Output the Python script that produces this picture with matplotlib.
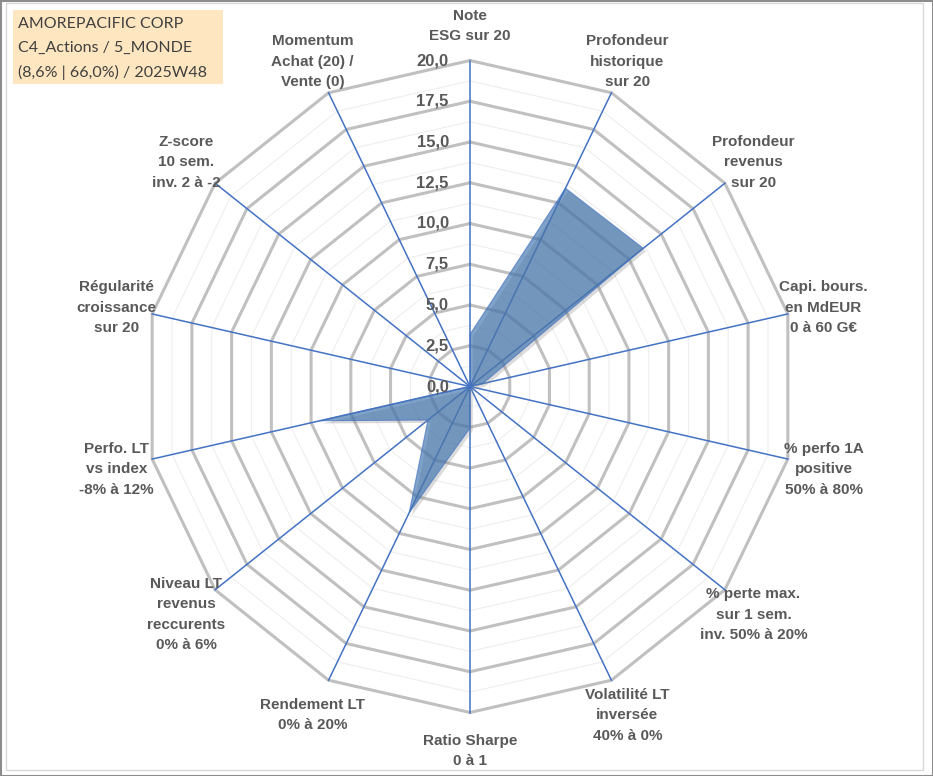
import matplotlib
matplotlib.use("Agg")
import matplotlib.pyplot as plt
import numpy as np
from matplotlib.patches import Rectangle
import matplotlib.patheffects as pe

# ---- data ----
labels = ["Note\nESG sur 20",
          "Profondeur\nhistorique\nsur 20",
          "Profondeur\nrevenus\nsur 20",
          "Capi. bours.\nen MdEUR\n0 à 60 G€",
          "% perfo 1A\npositive\n50% à 80%",
          "% perte max.\nsur 1 sem.\ninv. 50% à 20%",
          "Volatilité LT\ninversée\n40% à 0%",
          "Ratio Sharpe\n0 à 1",
          "Rendement LT\n0% à 20%",
          "Niveau LT\nrevenus\nreccurents\n0% à 6%",
          "Perfo. LT\nvs index\n-8% à 12%",
          "Régularité\ncroissance\nsur 20",
          "Z-score\n10 sem.\ninv. 2 à -2",
          "Momentum\nAchat (20) /\nVente (0)"]
values = [3.2, 13.5, 13.6, 0.8, 0.0, 0.0, 0.0, 2.55, 8.6, 3.3, 9.45, 0.0, 0.0, 0.0]
ticks = [0, 2.5, 5, 7.5, 10, 12.5, 15, 17.5, 20]
tick_labels = ["0,0", "2,5", "5,0", "7,5", "10,0", "12,5", "15,0", "17,5", "20,0"]
title_lines = ["AMOREPACIFIC CORP", "C4_Actions / 5_MONDE", "(8,6% | 66,0%) / 2025W48"]

W, H = 933, 776
cx, cy = 470, 386.5      # centre in pixels
ppu = 16.3               # pixels per unit

fig = plt.figure(figsize=(W / 100, H / 100), dpi=100)
ax = fig.add_axes([0, 0, 1, 1])
ax.set_xlim(-cx / ppu, (W - cx) / ppu)
ax.set_ylim(-(H - cy) / ppu, cy / ppu)
ax.axis('off')

n = len(labels)
ang = np.pi / 2 - np.arange(n) * 2 * np.pi / n
ca, sa = np.cos(ang), np.sin(ang)
ca_c, sa_c = np.append(ca, ca[0]), np.append(sa, sa[0])

# minor rings
for r in np.arange(1.25, 20, 2.5):
    ax.plot(r * ca_c, r * sa_c, color='#EEEEEE', lw=0.8, zorder=1)
# major rings
for r in ticks[1:]:
    ax.plot(r * ca_c, r * sa_c, color='#C0C0C0', lw=2.2, zorder=1,
            solid_joinstyle='miter')
# spokes
for i in range(n):
    ax.plot([0, 20 * ca[i]], [0, 20 * sa[i]], color='#4472C4', lw=1.1, zorder=2)

# data polygon
v = np.array(values)
ax.fill(v * ca, v * sa, facecolor='#4174AF', alpha=0.67, edgecolor='#4472C4',
        lw=0.8, zorder=3,
        path_effects=[pe.SimplePatchShadow(offset=(2, -2), shadow_rgbFace='#888888', alpha=0.3),
                      pe.Normal()])

# radial tick labels
for t, tl in zip(ticks, tick_labels):
    ax.text(-1.3, t, tl, ha='right', va='center', fontsize=12, fontweight='bold',
            color='#595959', family='Liberation Sans', zorder=4)

# category labels
rl = 22.25
for i, lab in enumerate(labels):
    ax.text(rl * ca[i], rl * sa[i] - 0.12, lab, ha='center', va='center',
            multialignment='center', fontsize=11, fontweight='bold', color='#595959',
            family='Liberation Sans', linespacing=1.58)

# title box
fig.patches.append(Rectangle((13 / W, 1 - 84 / H), 210 / W, 74 / H, transform=fig.transFigure,
                             facecolor='#FDE6C0', edgecolor='none', zorder=5))
for k, line in enumerate(title_lines):
    fig.text(18 / W, 1 - (24 + 24 * k) / H, line, ha='left', va='center', fontsize=11.5,
             color='#404040', family='Lato', zorder=6)

# chart frame
fig.patches.append(Rectangle((6 / W, 1 - 770 / H), 917 / W, 767 / H, transform=fig.transFigure,
                             facecolor='none', edgecolor='#D9D9D9', lw=1))
fig.patches.append(Rectangle((0.5 / W, 0.5 / H), 1 - 1 / W, 1 - 1 / H, transform=fig.transFigure,
                             facecolor='none', edgecolor='#8C8C8C', lw=1.5))

fig.savefig("out.png", dpi=100)
